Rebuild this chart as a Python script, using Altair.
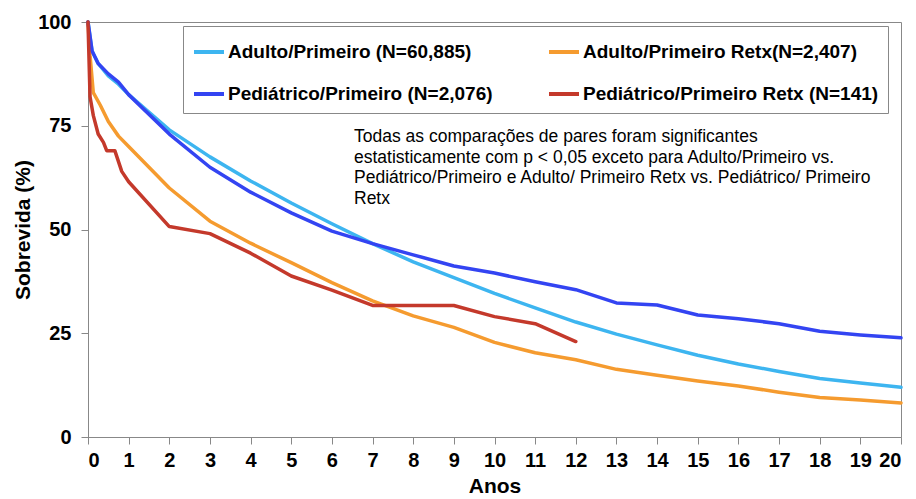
import altair as alt
import pandas as pd

series_names = [
    "Adulto/Primeiro (N=60,885)",
    "Pediátrico/Primeiro (N=2,076)",
    "Adulto/Primeiro Retx(N=2,407)",
    "Pediátrico/Primeiro Retx (N=141)",
]
series_colors = ["#3DB5F0", "#3344F2", "#F59B2F", "#C4392B"]

t_adulto = [0, 0.1, 0.25, 0.5, 0.75, 1, 2, 3, 4, 5, 6, 7, 8, 9, 10, 11, 12, 13, 14, 15, 16, 17, 18, 19, 20]
v_adulto = [100, 93, 90, 87, 85, 82.5, 74, 67.5, 61.7, 56.4, 51.4, 46.6, 42.2, 38.4, 34.6, 31.1, 27.7, 24.8, 22.2, 19.7, 17.6, 15.8, 14.1, 13, 12]

t_pediatrico = [0, 0.1, 0.25, 0.5, 0.75, 1, 2, 3, 4, 5, 6, 7, 8, 9, 10, 11, 12, 13, 14, 15, 16, 17, 18, 19, 20]
v_pediatrico = [100, 93, 90, 87.5, 85.5, 82.5, 73, 65, 59, 54, 49.6, 46.6, 43.9, 41.2, 39.5, 37.4, 35.5, 32.3, 31.8, 29.4, 28.5, 27.3, 25.5, 24.6, 23.9]

t_adulto_retx = [0, 0.05, 0.13, 0.3, 0.5, 0.75, 1, 1.5, 2, 3, 4, 5, 6, 7, 8, 9, 10, 11, 12, 13, 14, 15, 16, 17, 18, 19, 20]
v_adulto_retx = [100, 92, 83, 80, 76, 72.5, 70, 65, 60, 52, 46.7, 42, 37.2, 32.8, 29.2, 26.4, 22.8, 20.3, 18.6, 16.3, 14.9, 13.5, 12.3, 10.8, 9.5, 8.9, 8.2]

t_pediatrico_retx = [0, 0.05, 0.13, 0.25, 0.38, 0.46, 0.66, 0.83, 1, 2, 3, 4, 5, 6, 7, 8, 9, 10, 11, 12]
v_pediatrico_retx = [100, 82, 77.5, 73, 71, 69, 69, 64, 61.5, 50.7, 49, 44.3, 38.8, 35.4, 31.7, 31.7, 31.7, 29, 27.3, 23]

x_ticks = list(range(0, 21))
y_ticks = [0, 25, 50, 75, 100]

annotation_lines = [
    "Todas as comparações de pares foram significantes",
    "estatisticamente com p < 0,05 exceto para Adulto/Primeiro vs.",
    "Pediátrico/Primeiro e Adulto/ Primeiro Retx vs. Pediátrico/ Primeiro",
    "Retx",
]

rows = []
for name, ts, vs in [
    (series_names[0], t_adulto, v_adulto),
    (series_names[2], t_adulto_retx, v_adulto_retx),
    (series_names[1], t_pediatrico, v_pediatrico),
    (series_names[3], t_pediatrico_retx, v_pediatrico_retx),
]:
    for t, v in zip(ts, vs):
        rows.append({"serie": name, "anos": t, "sobrevida": v})
df = pd.DataFrame(rows)

FONT = "Liberation Sans"

lines = alt.Chart(df).mark_line(strokeWidth=3.5, strokeJoin="round", strokeCap="round").encode(
    x=alt.X("anos:Q", scale=alt.Scale(domain=[0, 20], nice=False),
            axis=alt.Axis(values=x_ticks, title="Anos", labelPadding=6, titlePadding=5, format="d")),
    y=alt.Y("sobrevida:Q", scale=alt.Scale(domain=[0, 100], nice=False),
            axis=alt.Axis(values=y_ticks, title="Sobrevida (%)", labelPadding=10, titlePadding=4, format="d")),
    color=alt.Color("serie:N", sort=series_names,
                    scale=alt.Scale(domain=series_names, range=series_colors),
                    legend=alt.Legend(
                        title=None, orient="none", legendX=95, legendY=4, columns=2,
                        symbolType="stroke", symbolSize=900, symbolStrokeWidth=4,
                        labelFont=FONT, labelFontSize=19, labelFontWeight="bold", labelColor="black",
                        labelLimit=600, labelOffset=2, rowPadding=15, columnPadding=48,
                        padding=9, strokeColor="#888888", fillColor="white")),
)

note = alt.Chart(pd.DataFrame({"k": [0]})).mark_text(
    align="left", baseline="top", font=FONT, fontSize=17.5, lineHeight=20.7,
    lineBreak="\n", color="black",
).encode(
    x=alt.value(266), y=alt.value(106), text=alt.value("\n".join(annotation_lines))
)

chart = alt.layer(lines, note).properties(
    width=813, height=415,
    padding={"left": 80, "top": 14, "right": 7, "bottom": 62},
    autosize=alt.AutoSizeParams(type="none"),
).configure_view(stroke="#888888", strokeWidth=1).configure_axis(
    grid=False, domainColor="#888888", tickColor="#888888", tickSize=7,
    labelFont=FONT, labelFontSize=20, labelFontWeight="bold", labelColor="black",
    titleFont=FONT, titleFontSize=21, titleFontWeight="bold", titleColor="black",
)

chart.save("out.html", embed_options={"renderer": "svg", "actions": False})
